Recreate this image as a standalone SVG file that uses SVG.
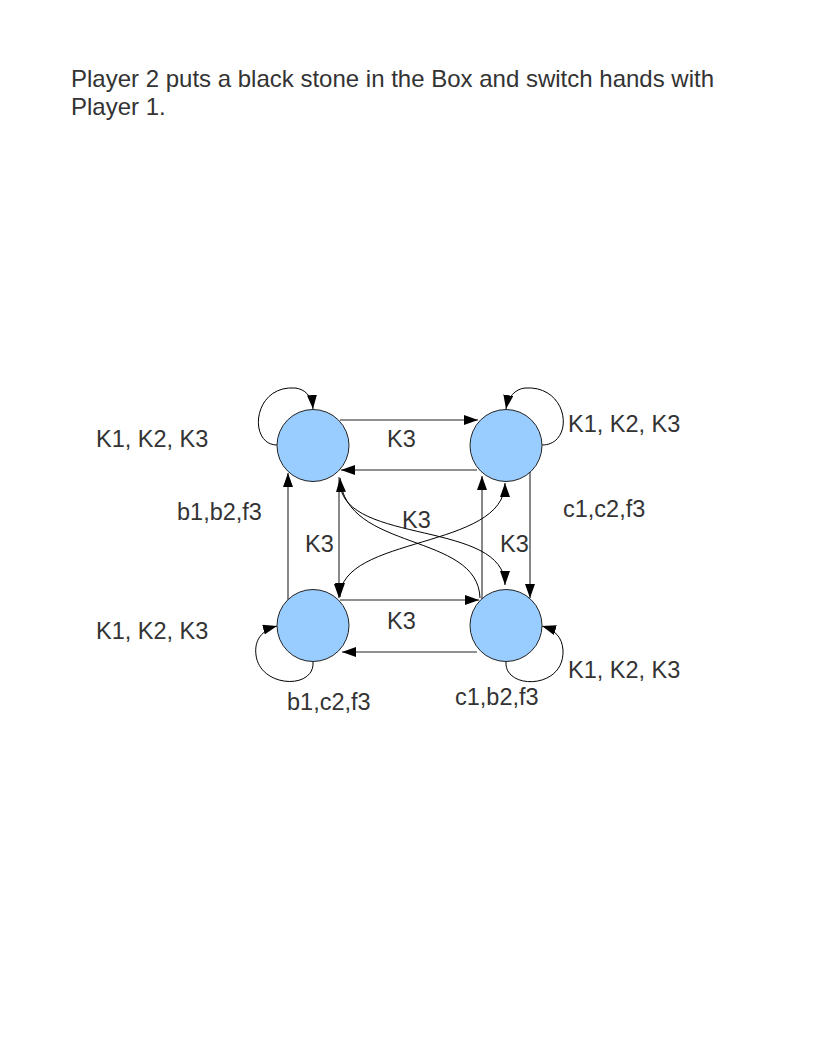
<svg xmlns="http://www.w3.org/2000/svg" width="816" height="1056" viewBox="0 0 816 1056">
<style>
text{font-family:"Liberation Sans",Arial,sans-serif;font-size:23.5px;fill:#333333}
text.title{font-size:24px}
.node{fill:#99ccff;stroke:#222;stroke-width:1}
.line{fill:none;stroke:#6b6b6b;stroke-width:1.6}
.curve{fill:none;stroke:#000;stroke-width:1}
</style>
<defs>
<marker id="ah" markerUnits="userSpaceOnUse" markerWidth="14" markerHeight="10" refX="14" refY="5" orient="auto-start-reverse">
<path d="M0,0 L14,5 L0,10 z" fill="#000"/>
</marker>
</defs>
<rect width="816" height="1056" fill="#fff"/>
<text class="title" x="71" y="87">Player 2 puts a black stone in the Box and switch hands with</text>
<text class="title" x="71" y="115">Player 1.</text>
<g id="connectors">
<path class="line" d="M340,420 L478,420" marker-end="url(#ah)"/>
<path class="line" d="M477,470 L341,470" marker-end="url(#ah)"/>
<path class="line" d="M288,600 L288,473" marker-end="url(#ah)"/>
<path class="line" d="M339,477 L339,598" marker-end="url(#ah)"/>
<path class="line" d="M482,599 L482,476" marker-end="url(#ah)"/>
<path class="line" d="M530,472 L530,598" marker-end="url(#ah)"/>
<path class="line" d="M340,600 L479,600" marker-end="url(#ah)"/>
<path class="line" d="M477,652 L342,652" marker-end="url(#ah)"/>
<path class="curve" d="M340,484 C345,545 505,520 505,585" marker-end="url(#ah)"/>
<path class="curve" d="M480,598 C478,532 345,552 340,478" marker-end="url(#ah)"/>
<path class="curve" d="M340,597 C340,535 505,550 505,483" marker-start="url(#ah)" marker-end="url(#ah)"/>
<path class="curve" d="M277,445 C248,445 252,385 295,388 C305,389 312,396 313,409" marker-end="url(#ah)"/>
<path class="curve" d="M542,445 C575,445 570,385 525,388 C515,389 508,397 506,409" marker-end="url(#ah)"/>
<path class="curve" d="M313,662 C315,690 260,688 256,655 C254,640 262,630 277,626" marker-end="url(#ah)"/>
<path class="curve" d="M506,662 C504,690 565,690 563,650 C562,637 555,630 542,626" marker-end="url(#ah)"/>
</g>
<g id="n1"><circle class="node" cx="313" cy="445.5" r="36"/></g>
<g id="n2"><circle class="node" cx="506" cy="445.5" r="36"/></g>
<g id="n3"><circle class="node" cx="313" cy="625.5" r="36"/></g>
<g id="n4"><circle class="node" cx="506" cy="625.5" r="36"/></g>
<g id="labels">
<text x="96" y="447">K1, K2, K3</text>
<text x="568" y="432">K1, K2, K3</text>
<text x="96" y="639">K1, K2, K3</text>
<text x="568" y="678">K1, K2, K3</text>
<text x="387" y="447">K3</text>
<text x="402" y="528">K3</text>
<text x="305" y="552">K3</text>
<text x="500" y="552">K3</text>
<text x="387" y="629">K3</text>
<text x="177" y="520">b1,b2,f3</text>
<text x="563" y="517">c1,c2,f3</text>
<text x="287" y="710">b1,c2,f3</text>
<text x="455" y="705">c1,b2,f3</text>
</g>
</svg>
